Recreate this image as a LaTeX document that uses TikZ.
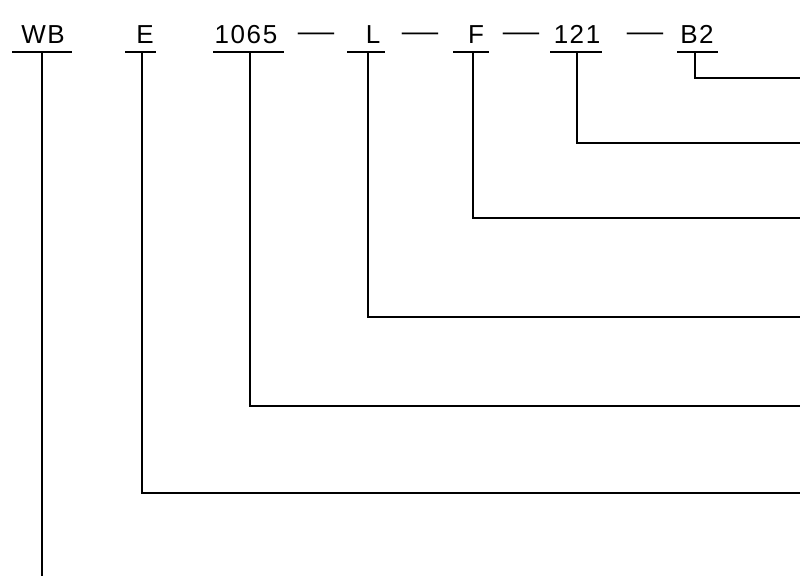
\documentclass[tikz,border=0pt]{standalone}
\usepackage{fontspec}
\setmainfont{Liberation Sans}
\begin{document}
\begin{tikzpicture}[x=1pt,y=-1pt,
  code/.style={font=\fontsize{26}{26}\selectfont\addfontfeatures{LetterSpace=6},inner sep=0pt,anchor=base},
  sep/.style={font=\fontsize{26}{26}\selectfont,inner sep=0pt,anchor=base,xscale=1.4},
  lead/.style={line width=2.4pt}]
\useasboundingbox (0,0) rectangle (800,576);
\pgfmathsetmacro{\base}{43}
\pgfmathsetmacro{\rule}{52}
% code letters
\node[code] (wb) at (43,\base) {WB};
\node[code] (e) at (145,\base) {E};
\node[code] (n1065) at (246,\base) {1065};
\node[code] (l) at (373,\base) {L};
\node[code] (f) at (476,\base) {F};
\node[code] (n121) at (577,\base) {121};
\node[code] (b2) at (697,\base) {B2};
% separators
\node[sep] (s1) at (316,40) {—};
\node[sep] (s2) at (420,40) {—};
\node[sep] (s3) at (521,40) {—};
\node[sep] (s4) at (645,40) {—};
% underlines and leaders
\foreach \n/\ux/\ul/\ur/\ty in {e/142/125/156/493, n1065/250/213/284/406, l/368/347/385/317, f/473/453/489/218, n121/577/550/602/143, b2/695/677/718/78}
{
  \draw[lead] (\ul,\rule) -- (\ur,\rule);
  \coordinate (\n-tap) at (\ux,\rule);
  \coordinate (\n-end) at (800,\ty);
  \draw[lead] (\n-tap) |- (\n-end);
}
\draw[lead] (12,\rule) -- (72,\rule);
\coordinate (wb-tap) at (42,\rule);
\coordinate (wb-end) at (42,576);
\draw[lead] (wb-tap) -- (wb-end);
\end{tikzpicture}
\end{document}
